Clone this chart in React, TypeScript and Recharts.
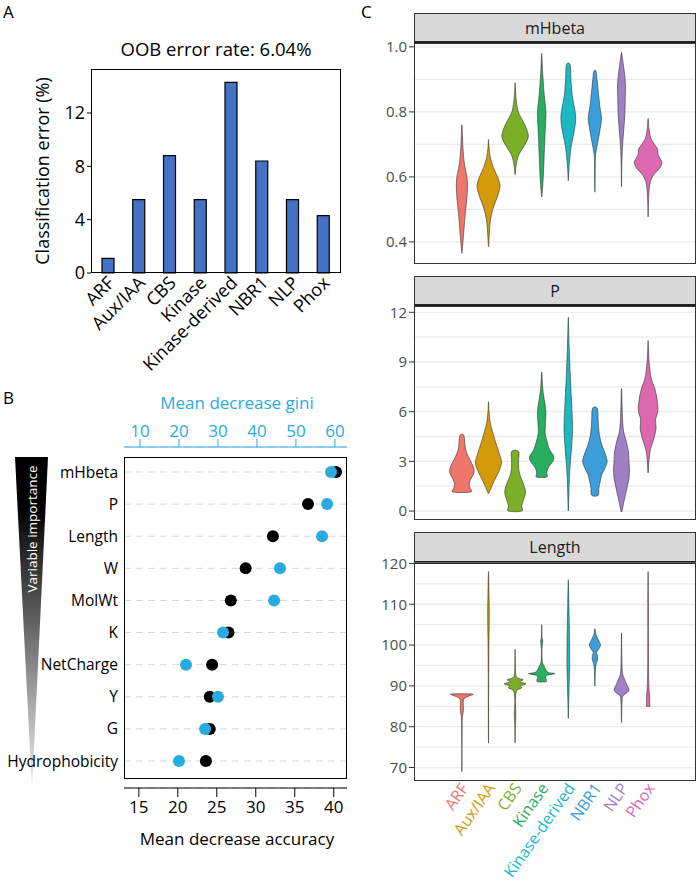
import React from 'react';
import { BarChart, Bar, ComposedChart, Scatter, XAxis, YAxis, CartesianGrid } from 'recharts';

const FONT = '"Open Sans", "DejaVu Sans", sans-serif';

// ---- A: classification error per class
const classes = ['ARF', 'Aux/IAA', 'CBS', 'Kinase', 'Kinase-derived', 'NBR1', 'NLP', 'Phox'];
const classError = [1.1, 5.5, 8.8, 5.5, 14.3, 8.4, 5.5, 4.3];
const errorTicks = [0, 4, 8, 12];

// ---- B: variable importance
const variables = ['mHbeta', 'P', 'Length', 'W', 'MolWt', 'K', 'NetCharge', 'Y', 'G', 'Hydrophobicity'];
const meanDecreaseAccuracy = [40.3, 36.7, 32.2, 28.7, 26.8, 26.5, 24.4, 24.1, 24.1, 23.6];
const meanDecreaseGini = [59.0, 58.0, 56.7, 45.9, 44.4, 31.3, 21.8, 30.0, 26.7, 20.0];
const accuracyTicks = [15, 20, 25, 30, 35, 40];
const giniTicks = [10, 20, 30, 40, 50, 60];

// ---- C: violins, each row is [value, half width in category units]
const hueColors = ['#F0766C', '#D39A0A', '#7AAF27', '#27AE60', '#1BB9C3', '#3B9EDB', '#A07FC6', '#DE68B0'];

const mHbetaTicks = [0.4, 0.6, 0.8, 1.0];
const mHbetaGrid = [0.4, 0.5, 0.6, 0.7, 0.8, 0.9, 1.0];
const mHbetaARF = [[0.76, 0], [0.73, 0.02], [0.69, 0.04], [0.65, 0.08], [0.62, 0.14], [0.6, 0.19], [0.575, 0.21], [0.55, 0.2], [0.52, 0.17], [0.49, 0.13], [0.45, 0.09], [0.41, 0.05], [0.38, 0.02], [0.365, 0]];
const mHbetaAux = [[0.715, 0], [0.69, 0.02], [0.66, 0.07], [0.63, 0.18], [0.6, 0.34], [0.575, 0.43], [0.55, 0.38], [0.525, 0.27], [0.5, 0.16], [0.47, 0.08], [0.44, 0.04], [0.41, 0.02], [0.385, 0]];
const mHbetaCBS = [[0.89, 0], [0.86, 0.02], [0.83, 0.05], [0.8, 0.12], [0.78, 0.24], [0.76, 0.37], [0.74, 0.46], [0.725, 0.5], [0.71, 0.44], [0.69, 0.3], [0.67, 0.15], [0.65, 0.07], [0.63, 0.03], [0.607, 0]];
const mHbetaKinase = [[0.98, 0], [0.93, 0.03], [0.88, 0.07], [0.84, 0.11], [0.8, 0.16], [0.77, 0.15], [0.72, 0.12], [0.66, 0.09], [0.6, 0.06], [0.545, 0.01]];
const mHbetaKd = [[0.945, 0.07], [0.9, 0.1], [0.85, 0.15], [0.81, 0.24], [0.78, 0.28], [0.75, 0.24], [0.72, 0.17], [0.69, 0.1], [0.65, 0.05], [0.62, 0.02], [0.588, 0]];
const mHbetaNBR1 = [[0.925, 0.04], [0.9, 0.08], [0.86, 0.13], [0.82, 0.18], [0.78, 0.25], [0.75, 0.2], [0.72, 0.14], [0.69, 0.07], [0.66, 0.02], [0.61, 0.01], [0.553, 0]];
const mHbetaNLP = [[0.98, 0.01], [0.95, 0.06], [0.92, 0.11], [0.88, 0.15], [0.84, 0.14], [0.8, 0.13], [0.76, 0.1], [0.72, 0.06], [0.68, 0.03], [0.63, 0.01], [0.57, 0]];
const mHbetaPhox = [[0.78, 0], [0.75, 0.03], [0.72, 0.1], [0.7, 0.24], [0.685, 0.36], [0.67, 0.37], [0.655, 0.46], [0.645, 0.52], [0.63, 0.46], [0.615, 0.3], [0.6, 0.16], [0.58, 0.07], [0.55, 0.03], [0.51, 0.01], [0.477, 0]];

const pTicks = [0, 3, 6, 9, 12];
const pGrid = [0, 1.5, 3, 4.5, 6, 7.5, 9, 10.5, 12];
const pARF = [[4.6, 0.06], [4.3, 0.1], [3.9, 0.12], [3.5, 0.18], [3.1, 0.3], [2.7, 0.42], [2.35, 0.46], [2.0, 0.36], [1.7, 0.28], [1.4, 0.3], [1.15, 0.33]];
const pAux = [[6.6, 0], [6.0, 0.02], [5.4, 0.06], [4.8, 0.15], [4.2, 0.26], [3.6, 0.38], [3.2, 0.46], [2.9, 0.49], [2.5, 0.42], [2.1, 0.3], [1.7, 0.18], [1.4, 0.1], [1.1, 0.02]];
const pCBS = [[3.6, 0.13], [3.0, 0.13], [2.5, 0.14], [2.1, 0.2], [1.7, 0.3], [1.3, 0.38], [1.0, 0.38], [0.6, 0.3], [0.3, 0.25], [0, 0.25]];
const pKinase = [[8.4, 0], [7.6, 0.03], [7.0, 0.07], [6.4, 0.13], [5.9, 0.16], [5.3, 0.14], [4.7, 0.13], [4.2, 0.2], [3.7, 0.3], [3.3, 0.45], [3.0, 0.42], [2.6, 0.24], [2.3, 0.19], [2.05, 0.19]];
const pKd = [[11.7, 0], [10, 0.03], [8, 0.08], [7, 0.11], [6, 0.14], [5, 0.16], [4, 0.13], [3, 0.08], [2, 0.04], [1, 0.02], [0, 0]];
const pNBR1 = [[6.2, 0.09], [5.5, 0.12], [5.0, 0.14], [4.5, 0.18], [4.0, 0.26], [3.5, 0.38], [3.0, 0.46], [2.6, 0.38], [2.2, 0.26], [1.8, 0.2], [1.4, 0.15], [0.95, 0.12]];
const pNLP = [[7.4, 0], [6.5, 0.02], [5.5, 0.04], [4.8, 0.08], [4.2, 0.18], [3.6, 0.26], [3.0, 0.28], [2.5, 0.3], [2.0, 0.28], [1.5, 0.22], [1.0, 0.15], [0.5, 0.08], [0, 0.02]];
const pPhox = [[10.3, 0], [9.5, 0.02], [8.8, 0.05], [8.0, 0.12], [7.4, 0.25], [6.8, 0.33], [6.1, 0.37], [5.5, 0.28], [5.0, 0.3], [4.4, 0.22], [3.8, 0.1], [3.2, 0.04], [2.3, 0]];

const lengthTicks = [70, 80, 90, 100, 110, 120];
const lengthGrid = [70, 75, 80, 85, 90, 95, 100, 105, 110, 115, 120];
const lengthARF = [[88, 0.39], [87.6, 0.3], [87, 0.1], [86, 0.05], [84.5, 0.06], [83.5, 0.05], [82.5, 0.02], [80, 0.01], [75, 0.005], [69, 0]];
const lengthAux = [[118, 0], [112, 0.02], [108, 0.03], [104, 0.025], [100, 0.015], [95, 0.01], [90, 0.008], [80, 0.005], [76, 0]];
const lengthCBS = [[99, 0], [95, 0.01], [93, 0.02], [92, 0.08], [91.5, 0.3], [91, 0.18], [90.5, 0.41], [90, 0.2], [89.5, 0.25], [89, 0.08], [88, 0.03], [86, 0.01], [83, 0.03], [80, 0.01], [76, 0]];
const lengthKinase = [[105, 0], [102, 0.01], [101, 0.04], [99, 0.01], [96, 0.02], [95, 0.08], [94, 0.15], [93.3, 0.25], [93, 0.5], [92.6, 0.2], [92, 0.15], [91.5, 0.18], [91, 0.15]];
const lengthKd = [[116, 0], [110, 0.02], [104, 0.04], [98, 0.05], [94, 0.05], [90, 0.03], [86, 0.015], [82, 0]];
const lengthNBR1 = [[104, 0], [102.5, 0.04], [101, 0.15], [100, 0.21], [99, 0.14], [98.2, 0.06], [97.5, 0.09], [96.5, 0.1], [95.5, 0.05], [94, 0.02], [92, 0.01], [90, 0]];
const lengthNLP = [[103, 0], [98, 0.01], [95, 0.02], [93, 0.04], [92, 0.09], [91, 0.15], [90, 0.22], [89, 0.28], [88.3, 0.2], [87.5, 0.05], [86, 0.02], [84, 0.01], [81, 0]];
const lengthPhox = [[118, 0], [110, 0.01], [100, 0.01], [92, 0.02], [89, 0.04], [87, 0.06], [85.5, 0.06], [85, 0.06]];

const errorData = classes.map((name, i) => ({ name, error: classError[i] }));
const importanceData = variables.map((name, i) => ({
  name,
  acc: meanDecreaseAccuracy[i],
  gini: meanDecreaseGini[i],
}));

// right side top->bottom, then left side bottom->top
function violinOutline(profile: number[][], center: number) {
  const right = profile.map(([v, w]) => ({ x: center + w, y: v }));
  const left = [...profile].reverse().map(([v, w]) => ({ x: center - w, y: v }));
  return [...right, ...left];
}

function closedSmoothPath(raw: any[]) {
  const pts: { x: number; y: number }[] = [];
  raw.forEach((r) => {
    const p = { x: r.x ?? r.cx, y: r.y ?? r.cy };
    const last = pts[pts.length - 1];
    if (!last || Math.abs(last.x - p.x) + Math.abs(last.y - p.y) > 0.4) pts.push(p);
  });
  if (pts.length > 2) {
    const a = pts[0];
    const b = pts[pts.length - 1];
    if (Math.abs(a.x - b.x) + Math.abs(a.y - b.y) <= 0.4) pts.pop();
  }
  const n = pts.length;
  if (n < 3) return '';
  let d = `M${pts[0].x},${pts[0].y}`;
  for (let i = 0; i < n; i++) {
    const p0 = pts[(i - 1 + n) % n];
    const p1 = pts[i];
    const p2 = pts[(i + 1) % n];
    const p3 = pts[(i + 2) % n];
    const c1x = p1.x + (p2.x - p0.x) / 6;
    const c1y = p1.y + (p2.y - p0.y) / 6;
    const c2x = p2.x - (p3.x - p1.x) / 6;
    const c2y = p2.y - (p3.y - p1.y) / 6;
    d += ` C${c1x},${c1y} ${c2x},${c2y} ${p2.x},${p2.y}`;
  }
  return d + ' Z';
}

const violinLine = (color: string) => (props: any) => (
  <path d={closedSmoothPath(props.points || [])} fill={color} stroke="#333333" strokeWidth={0.6} />
);

const noPoint = () => <g />;

const dot = (color: string) => (props: any) => <circle cx={props.cx} cy={props.cy} r={6} fill={color} />;

const ClassTick = (props: any) => (
  <g transform={`translate(${props.x},${props.y})`}>
    <text dy={10} transform="rotate(-45)" textAnchor="end" fontSize={18} fill="#000" fontFamily={FONT}>
      {props.payload.value}
    </text>
  </g>
);

const ColoredClassTick = (props: any) => {
  const i = Math.round(props.payload.value) - 1;
  return (
    <g transform={`translate(${props.x},${props.y})`}>
      <text dy={9} transform="rotate(-55)" textAnchor="end" fontSize={16} fill={hueColors[i]} fontFamily={FONT}>
        {classes[i]}
      </text>
    </g>
  );
};

interface FacetProps {
  title: string;
  stripTop: number;
  plotTop: number;
  plotHeight: number;
  domain: number[];
  ticks: number[];
  grid: number[];
  profiles: number[][][];
  showLabels?: boolean;
  decimals?: number;
}

function ViolinFacet({ title, stripTop, plotTop, plotHeight, domain, ticks, grid, profiles, showLabels, decimals = 0 }: FacetProps) {
  const xAxisHeight = showLabels ? 112 : 0;
  const chartHeight = 10 + plotHeight + (showLabels ? xAxisHeight : 10);
  return (
    <>
      <div
        style={{
          position: 'absolute', left: 414, top: stripTop, width: 282, height: plotTop - stripTop,
          boxSizing: 'border-box', background: '#d9d9d9', border: '1px solid #333', borderBottom: '2px solid #222',
          display: 'flex', alignItems: 'center', justifyContent: 'center', fontSize: 16, color: '#1a1a1a',
        }}
      >
        {title}
      </div>
      <div style={{ position: 'absolute', left: 340, top: plotTop - 10 }}>
        <ComposedChart width={358} height={chartHeight} margin={{ top: 10, right: 2, bottom: showLabels ? 0 : 10, left: 0 }}>
          <CartesianGrid vertical={false} horizontalValues={grid} stroke="#ebebeb" strokeWidth={1.3} />
          <XAxis
            type="number"
            dataKey="x"
            domain={[-0.8, 9.8]}
            ticks={[1, 2, 3, 4, 5, 6, 7, 8]}
            interval={0}
            hide={!showLabels}
            height={xAxisHeight}
            axisLine={false}
            tickLine={false}
            tickSize={0}
            tickMargin={2}
            tick={<ColoredClassTick />}
            allowDataOverflow
          />
          <YAxis
            type="number"
            dataKey="y"
            domain={domain}
            ticks={ticks}
            interval={0}
            width={74}
            axisLine={false}
            tickLine={{ stroke: '#333' }}
            tickSize={5}
            tickMargin={2}
            tick={{ fill: '#4d4d4d', fontSize: 15, fontFamily: FONT }}
            tickFormatter={(v: number) => v.toFixed(decimals)}
            allowDataOverflow
          />
          {profiles.map((prof, i) => (
            <Scatter
              key={classes[i]}
              data={violinOutline(prof, i + 1)}
              line={violinLine(hueColors[i])}
              shape={noPoint}
              isAnimationActive={false}
            />
          ))}
        </ComposedChart>
      </div>
      <div
        style={{
          position: 'absolute', left: 414, top: plotTop, width: 282, height: plotHeight,
          boxSizing: 'border-box', border: '1px solid #333', pointerEvents: 'none',
        }}
      />
    </>
  );
}

export default function App() {
  return (
    <div style={{ position: 'absolute', left: 0, top: 0, width: 698, height: 893, background: '#fff', fontFamily: FONT, overflow: 'hidden' }}>
      {/* panel letters */}
      <div style={{ position: 'absolute', left: 3, top: 0, fontSize: 17 }}>A</div>
      <div style={{ position: 'absolute', left: 3, top: 386, fontSize: 17 }}>B</div>
      <div style={{ position: 'absolute', left: 361, top: 0, fontSize: 17 }}>C</div>

      {/* A */}
      <div style={{ position: 'absolute', left: 91, top: 36, width: 250, textAlign: 'center', fontSize: 18.5, whiteSpace: 'nowrap' }}>
        OOB error rate: 6.04%
      </div>
      <div style={{ position: 'absolute', left: 0, top: 0 }}>
        <BarChart width={345} height={380} data={errorData} margin={{ top: 69, right: 4, bottom: 0, left: 0 }}>
          <XAxis
            dataKey="name"
            height={107}
            interval={0}
            padding={{ left: 2, right: 2 }}
            axisLine={false}
            tickLine={false}
            tickSize={0}
            tickMargin={4}
            tick={<ClassTick />}
          />
          <YAxis
            width={91}
            domain={[0, 15.3]}
            ticks={errorTicks}
            interval={0}
            axisLine={false}
            tickLine={{ stroke: '#000' }}
            tickSize={4}
            tickMargin={2}
            tick={{ fill: '#000', fontSize: 18, fontFamily: FONT }}
            label={{ value: 'Classification error (%)', angle: -90, position: 'center', dx: -3, fill: '#000', fontSize: 18, fontFamily: FONT }}
          />
          <Bar dataKey="error" fill="#4472C4" stroke="#000" strokeWidth={1.2} barSize={12} isAnimationActive={false} />
        </BarChart>
      </div>
      <div style={{ position: 'absolute', left: 91, top: 69, width: 250, height: 204, boxSizing: 'border-box', border: '1.5px solid #000', pointerEvents: 'none' }} />

      {/* B */}
      <svg style={{ position: 'absolute', left: 0, top: 440 }} width={60} height={360}>
        <defs>
          <linearGradient id="importance" x1="0" y1="0" x2="0" y2="1">
            <stop offset="0" stopColor="#000" />
            <stop offset="0.15" stopColor="#000" />
            <stop offset="1" stopColor="#f2f2f2" />
          </linearGradient>
        </defs>
        <polygon points="15,17 48,17 32,350" fill="url(#importance)" />
        <text transform="translate(37,89) rotate(-90)" textAnchor="middle" fill="#fff" fontSize={13.5} fontFamily={FONT}>
          Variable importance
        </text>
      </svg>
      <div style={{ position: 'absolute', left: 137, top: 391, width: 200, textAlign: 'center', fontSize: 17, color: '#29ABE2' }}>
        Mean decrease gini
      </div>
      <div style={{ position: 'absolute', left: 137, top: 827, width: 200, textAlign: 'center', fontSize: 17, color: '#000', whiteSpace: 'nowrap' }}>
        Mean decrease accuracy
      </div>
      <div style={{ position: 'absolute', left: 0, top: 380 }}>
        <ComposedChart width={360} height={480} data={importanceData} margin={{ top: 0, right: 13, bottom: 0, left: 0 }}>
          <CartesianGrid xAxisId="acc" vertical={false} stroke="#d6d6d6" strokeDasharray="7 5" />
          <XAxis
            xAxisId="gini"
            orientation="top"
            type="number"
            dataKey="gini"
            height={67}
            domain={[5.9, 63.1]}
            ticks={giniTicks}
            interval={0}
            stroke="#29ABE2"
            tickSize={8}
            tickMargin={2}
            tick={{ fill: '#29ABE2', fontSize: 17, fontFamily: FONT }}
            allowDataOverflow
          />
          <XAxis
            xAxisId="acc"
            orientation="bottom"
            type="number"
            dataKey="acc"
            height={72}
            domain={[13.1, 41.7]}
            ticks={accuracyTicks}
            interval={0}
            stroke="#000"
            tickSize={9}
            tickMargin={4}
            tick={{ fill: '#000', fontSize: 17, fontFamily: FONT }}
            allowDataOverflow
          />
          <YAxis
            type="category"
            dataKey="name"
            scale="point"
            reversed
            width={124}
            padding={{ top: 25, bottom: 27 }}
            axisLine={false}
            tickLine={false}
            tickSize={0}
            tickMargin={6}
            interval={0}
            tick={{ fill: '#000', fontSize: 15.5, fontFamily: FONT }}
          />
          <Scatter xAxisId="acc" dataKey="acc" shape={dot('#000')} isAnimationActive={false} />
          <Scatter xAxisId="gini" dataKey="gini" shape={dot('#29ABE2')} isAnimationActive={false} />
        </ComposedChart>
      </div>
      <div style={{ position: 'absolute', left: 124, top: 457, width: 223, height: 322, boxSizing: 'border-box', border: '1.5px solid #000', pointerEvents: 'none' }} />

      {/* C */}
      <ViolinFacet
        title="mHbeta"
        stripTop={13}
        plotTop={43}
        plotHeight={221}
        domain={[0.332, 1.012]}
        ticks={mHbetaTicks}
        grid={mHbetaGrid}
        decimals={1}
        profiles={[mHbetaARF, mHbetaAux, mHbetaCBS, mHbetaKinase, mHbetaKd, mHbetaNBR1, mHbetaNLP, mHbetaPhox]}
      />
      <ViolinFacet
        title="P"
        stripTop={276}
        plotTop={306}
        plotHeight={214}
        domain={[-0.54, 12.38]}
        ticks={pTicks}
        grid={pGrid}
        profiles={[pARF, pAux, pCBS, pKinase, pKd, pNBR1, pNLP, pPhox]}
      />
      <ViolinFacet
        title="Length"
        stripTop={532}
        plotTop={563}
        plotHeight={218}
        domain={[66.7, 120.1]}
        ticks={lengthTicks}
        grid={lengthGrid}
        showLabels
        profiles={[lengthARF, lengthAux, lengthCBS, lengthKinase, lengthKd, lengthNBR1, lengthNLP, lengthPhox]}
      />
    </div>
  );
}
